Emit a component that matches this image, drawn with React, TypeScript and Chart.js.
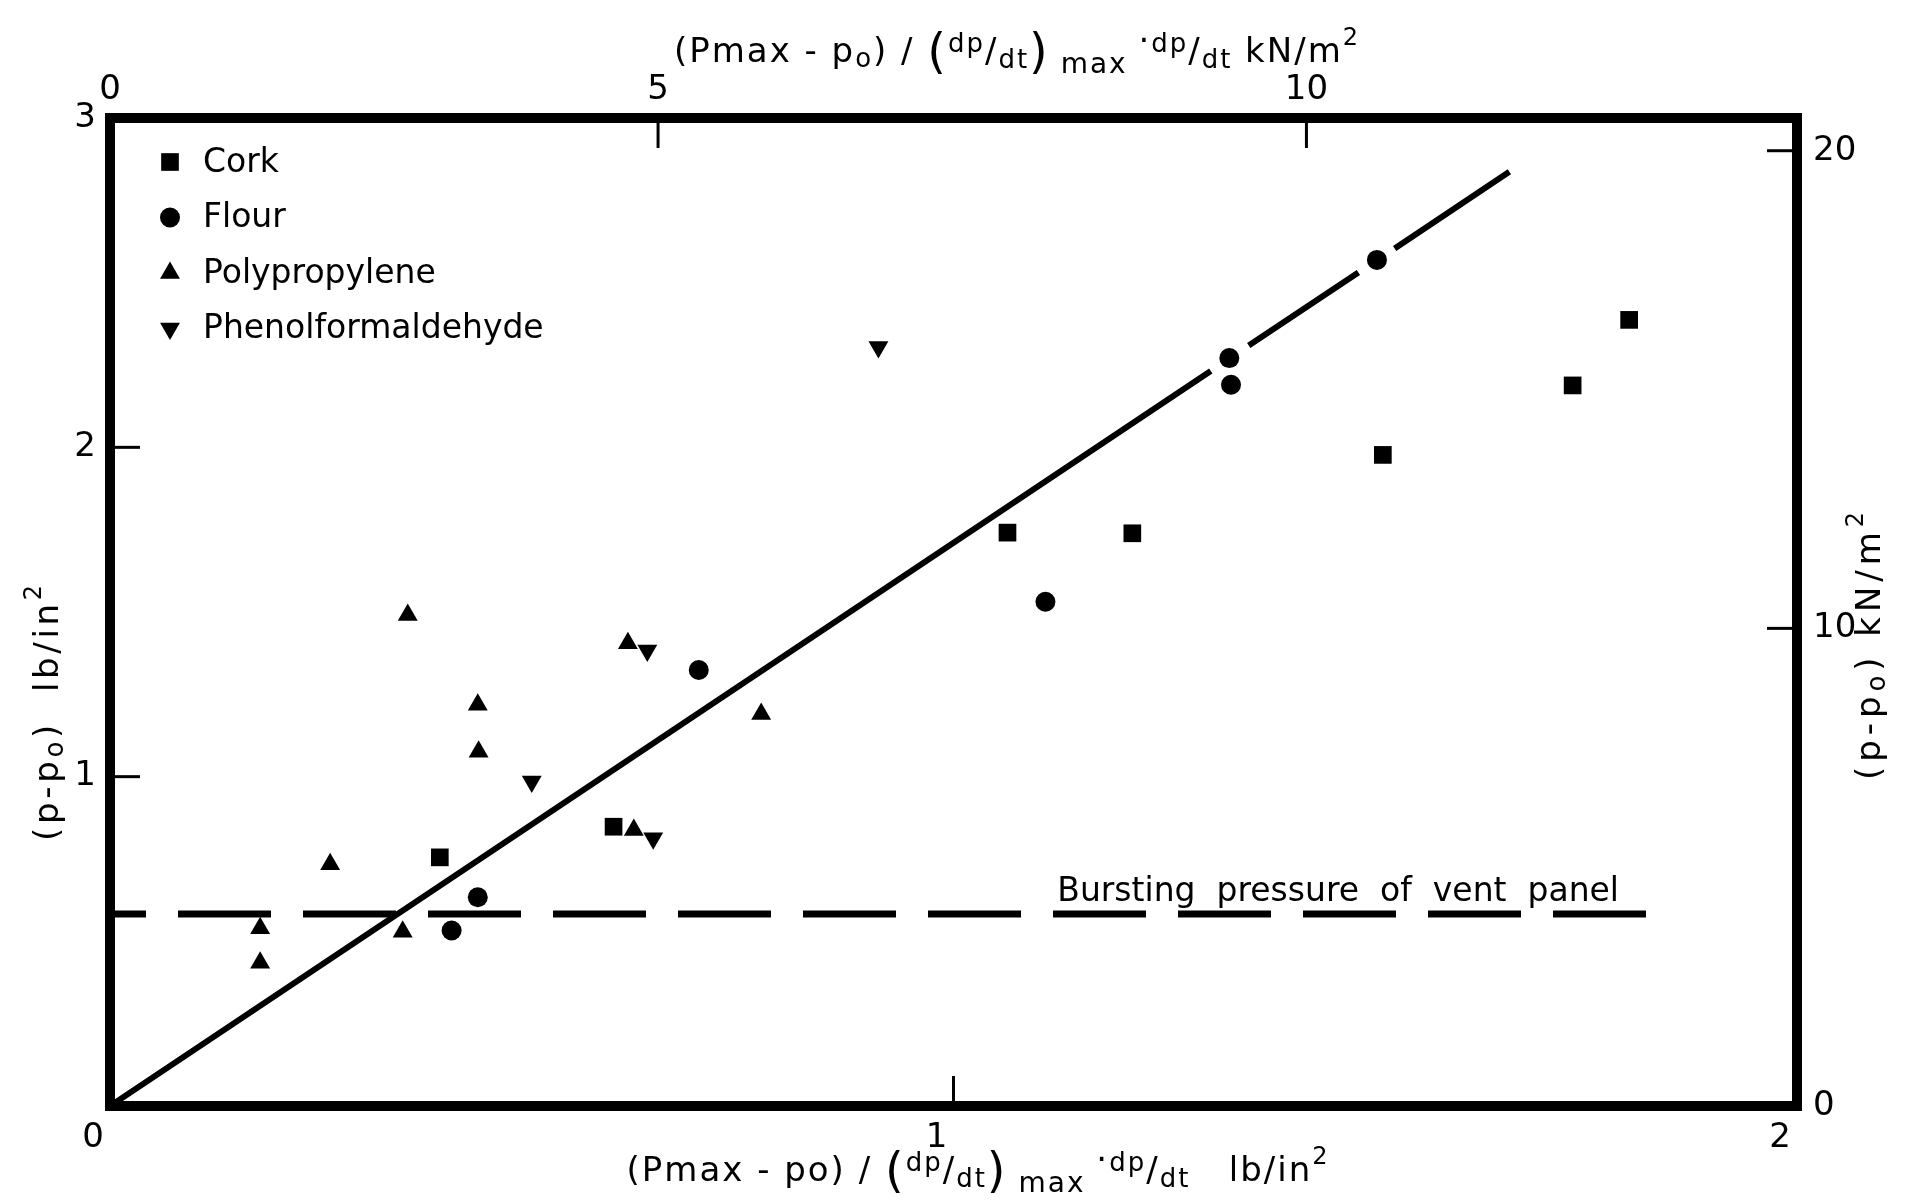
import React, { useEffect, useRef } from 'react';
import { Chart, registerables } from 'chart.js';

Chart.register(...registerables);

// ---------- data ----------
// x: (Pmax-po)/(dp/dt)max · dp/dt  [lb/in²],  y: (p-po) [lb/in²]
const seriesNames = ['Cork', 'Flour', 'Polypropylene', 'Phenolformaldehyde'];

const corkX = [0.391, 0.597, 1.064, 1.212, 1.509, 1.734, 1.801];
const corkY = [0.755, 0.848, 1.741, 1.739, 1.977, 2.188, 2.387];

const flourX = [0.405, 0.436, 0.698, 1.109, 1.327, 1.329, 1.502];
const flourY = [0.533, 0.634, 1.324, 1.531, 2.271, 2.19, 2.569];

const polyX = [0.178, 0.178, 0.261, 0.353, 0.436, 0.437, 0.347, 0.614, 0.621, 0.772];
const polyY = [0.54, 0.435, 0.734, 1.491, 1.218, 1.076, 0.529, 1.405, 0.838, 1.19];

const phenolX = [0.911, 0.637, 0.5, 0.644];
const phenolY = [2.305, 1.383, 0.985, 0.813];

// fitted line through the origin (broken where it passes the flour points)
const fitLineX = [0, 1.305, 1.328, 1.35, 1.48, 1.501, 1.523, 1.659];
const fitLineY = [0, 2.232, null, 2.309, 2.531, null, 2.604, 2.837];

// bursting pressure of the vent panel
const burstY = 0.583;
const burstX = [0, 1.823];
const burstLabel = 'Bursting  pressure  of  vent  panel';
const burstLabelX = 1.123;

// axes
const KN_PER_PSI = 6.895;
const X_MAX = 2;
const Y_MAX = 3;
const bottomTickValues = [0, 1, 2];
const bottomTickLabels = ['0', '1', '2'];
const leftTickValues = [1, 2, 3];
const leftTickLabels = ['1', '2', '3'];
// top axis (kN/m²) ticks, positions as drawn in the original figure
const topTickValues = [0, 4.48, 9.78];
const topTickLabels = ['0', '5', '10'];
const rightTickValues = [0, 10, 20];
const rightTickLabels = ['0', '10', '20'];

// axis titles: [text, font size, baseline shift]
type Seg = [string, number, number];
const topTitle: Seg[] = [
  ['(Pmax - p', 34, 0], ['o', 26, 5], [') / ', 34, 0], ['(', 48, 6], ['dp', 26, -10], ['/', 34, 0],
  ['dt', 26, 6], [')', 48, 6], [' max ', 28, 11], ['·', 34, -10], ['dp', 26, -10], ['/', 34, 0],
  ['dt', 26, 6], [' kN/m', 34, 0], ['2', 24, -17],
];
const bottomTitle: Seg[] = [
  ['(Pmax - po) / ', 34, 0], ['(', 48, 6], ['dp', 26, -10], ['/', 34, 0], ['dt', 26, 6], [')', 48, 6],
  [' max ', 28, 11], ['·', 34, -10], ['dp', 26, -10], ['/', 34, 0], ['dt', 26, 6], ['   lb/in', 34, 0],
  ['2', 24, -17],
];
const leftTitle: Seg[] = [['(p-p', 34, 0], ['o', 26, 5], [')  lb/in', 34, 0], ['2', 24, -17]];
const rightTitle: Seg[] = [['(p-p', 34, 0], ['o', 26, 5], [') kN/m', 34, 0], ['2', 24, -17]];

const FONT = '"DejaVu Sans", sans-serif';

function segWidth(ctx: CanvasRenderingContext2D, segs: Seg[]) {
  let w = 0;
  let n = 0;
  for (const [t, s] of segs) {
    ctx.font = `${s}px ${FONT}`;
    for (const ch of t) {
      w += ctx.measureText(ch).width;
      n++;
    }
  }
  return { w, n };
}

function drawSegs(ctx: CanvasRenderingContext2D, segs: Seg[], cx: number, y: number, target: number) {
  const { w, n } = segWidth(ctx, segs);
  const ls = Math.max(0, (target - w) / Math.max(1, n - 1));
  let x = cx - (w + ls * (n - 1)) / 2;
  ctx.textAlign = 'left';
  ctx.textBaseline = 'alphabetic';
  for (const [t, s, dy] of segs) {
    ctx.font = `${s}px ${FONT}`;
    for (const ch of t) {
      ctx.fillText(ch, x, y + dy);
      x += ctx.measureText(ch).width + ls;
    }
  }
}

function drawMarker(ctx: CanvasRenderingContext2D, style: string, rot: number, r: number, x: number, y: number) {
  ctx.beginPath();
  if (style === 'circle') {
    ctx.arc(x, y, r, 0, Math.PI * 2);
  } else if (style === 'rect') {
    const s = r * Math.SQRT1_2;
    ctx.rect(x - s, y - s, 2 * s, 2 * s);
  } else {
    let rad = (rot * Math.PI) / 180;
    ctx.moveTo(x + Math.sin(rad) * r, y - Math.cos(rad) * r);
    rad += (2 * Math.PI) / 3;
    ctx.lineTo(x + Math.sin(rad) * r, y - Math.cos(rad) * r);
    rad += (2 * Math.PI) / 3;
    ctx.lineTo(x + Math.sin(rad) * r, y - Math.cos(rad) * r);
    ctx.closePath();
  }
  ctx.fill();
}

const toPoints = (xs: number[], ys: (number | null)[]) => xs.map((x, i) => ({ x, y: ys[i] }));

const overlay = {
  id: 'overlay',
  beforeDraw(chart: any) {
    const { ctx, width, height } = chart;
    ctx.save();
    ctx.fillStyle = '#fff';
    ctx.fillRect(0, 0, width, height);
    ctx.restore();
  },
  afterDraw(chart: any) {
    const { ctx, chartArea: ca, scales } = chart;
    ctx.save();
    ctx.strokeStyle = '#000';
    ctx.fillStyle = '#000';

    // frame
    ctx.lineWidth = 10;
    ctx.lineJoin = 'miter';
    ctx.strokeRect(ca.left, ca.top, ca.right - ca.left, ca.bottom - ca.top);

    // inward tick marks
    ctx.lineWidth = 3;
    const L = 30;
    const seg = (x1: number, y1: number, x2: number, y2: number) => {
      ctx.beginPath();
      ctx.moveTo(x1, y1);
      ctx.lineTo(x2, y2);
      ctx.stroke();
    };
    const inH = (p: number) => p > ca.left + 4 && p < ca.right - 4;
    const inV = (p: number) => p > ca.top + 4 && p < ca.bottom - 4;
    for (const t of scales.x.ticks) {
      const p = scales.x.getPixelForValue(t.value);
      if (inH(p)) seg(p, ca.bottom, p, ca.bottom - L);
    }
    for (const t of scales.x2.ticks) {
      const p = scales.x2.getPixelForValue(t.value);
      if (inH(p)) seg(p, ca.top, p, ca.top + L);
    }
    for (const t of scales.y.ticks) {
      const p = scales.y.getPixelForValue(t.value);
      if (inV(p)) seg(ca.left, p, ca.left + L, p);
    }
    for (const t of scales.y2.ticks) {
      const p = scales.y2.getPixelForValue(t.value);
      if (inV(p)) seg(ca.right, p, ca.right - L, p);
    }

    // legend
    const lx = ca.left + 60;
    seriesNames.forEach((name, i) => {
      const ds = chart.data.datasets[i];
      const y = ca.top + 44 + i * 55.5;
      drawMarker(ctx, ds.pointStyle, ds.rotation || 0, ds.pointRadius, lx, y);
      ctx.font = `33px ${FONT}`;
      ctx.textAlign = 'left';
      ctx.textBaseline = 'middle';
      ctx.fillText(name, lx + 33, y + 1);
    });

    // bursting pressure label
    ctx.font = `33px ${FONT}`;
    ctx.textAlign = 'left';
    ctx.textBaseline = 'alphabetic';
    ctx.fillText(burstLabel, scales.x.getPixelForValue(burstLabelX), scales.y.getPixelForValue(burstY) - 13);

    // axis titles
    drawSegs(ctx, topTitle, 1016, 62, 684);
    drawSegs(ctx, bottomTitle, 977, 1181, 701);
    ctx.save();
    ctx.translate(58, 713);
    ctx.rotate(-Math.PI / 2);
    drawSegs(ctx, leftTitle, 0, 0, 256);
    ctx.restore();
    ctx.save();
    ctx.translate(1880, 646);
    ctx.rotate(-Math.PI / 2);
    drawSegs(ctx, rightTitle, 0, 0, 268);
    ctx.restore();

    ctx.restore();
  },
};

const fixBox = (w?: number, h?: number) => (s: any) => {
  if (w !== undefined) s.width = w;
  if (h !== undefined) s.height = h;
  s.paddingLeft = 0;
  s.paddingRight = 0;
  s.paddingTop = 0;
  s.paddingBottom = 0;
};

const setTicks = (vals: number[]) => (s: any) => {
  s.ticks = vals.map((v) => ({ value: v }));
};

const tickFont = { family: FONT, size: 34 };

export default function App() {
  const ref = useRef<HTMLCanvasElement>(null);
  useEffect(() => {
    document.body.style.margin = '0';
    const marker = (label: string, xs: number[], ys: number[], style: string, r: number, rot = 0) => ({
      label,
      data: toPoints(xs, ys),
      pointStyle: style,
      pointRadius: r,
      pointHoverRadius: r,
      rotation: rot,
      backgroundColor: '#000',
      borderColor: '#000',
      borderWidth: 0,
      showLine: false,
    });
    const chart = new Chart(ref.current as HTMLCanvasElement, {
      type: 'scatter',
      data: {
        datasets: [
          marker(seriesNames[0], corkX, corkY, 'rect', 12.5),
          marker(seriesNames[1], flourX, flourY, 'circle', 10),
          marker(seriesNames[2], polyX, polyY, 'triangle', 11.5),
          marker(seriesNames[3], phenolX, phenolY, 'triangle', 11.5, 180),
          {
            label: 'fit',
            data: toPoints(fitLineX, fitLineY),
            showLine: true,
            borderColor: '#000',
            borderWidth: 6,
            borderCapStyle: 'butt',
            pointRadius: 0,
            spanGaps: false,
          } as any,
          {
            label: 'burst',
            data: toPoints(burstX, burstX.map(() => burstY)),
            showLine: true,
            borderColor: '#000',
            borderWidth: 7,
            borderDash: [93, 32],
            borderDashOffset: 57,
            borderCapStyle: 'butt',
            pointRadius: 0,
          } as any,
        ],
      },
      options: {
        responsive: false,
        maintainAspectRatio: false,
        animation: false,
        devicePixelRatio: 1,
        events: [],
        layout: { padding: 0 },
        plugins: { legend: { display: false }, tooltip: { enabled: false } },
        scales: {
          x: {
            type: 'linear',
            position: 'bottom',
            min: 0,
            max: X_MAX,
            afterFit: fixBox(undefined, 95),
            afterBuildTicks: setTicks(bottomTickValues),
            grid: { display: false, drawTicks: false },
            border: { display: false },
            ticks: {
              align: 'end',
              labelOffset: -6,
              padding: 12,
              color: '#000',
              font: tickFont,
              callback: (_v: any, i: number) => bottomTickLabels[i],
            },
          },
          x2: {
            type: 'linear',
            position: 'top',
            min: 0,
            max: X_MAX * KN_PER_PSI,
            afterFit: fixBox(undefined, 118),
            afterBuildTicks: setTicks(topTickValues),
            grid: { display: false, drawTicks: false },
            border: { display: false },
            ticks: {
              padding: 7,
              color: '#000',
              font: tickFont,
              callback: (_v: any, i: number) => topTickLabels[i],
            },
          },
          y: {
            type: 'linear',
            position: 'left',
            min: 0,
            max: Y_MAX,
            afterFit: fixBox(110, undefined),
            afterBuildTicks: setTicks(leftTickValues),
            grid: { display: false, drawTicks: false },
            border: { display: false },
            ticks: {
              padding: 14,
              color: '#000',
              font: tickFont,
              callback: (_v: any, i: number) => leftTickLabels[i],
            },
          },
          y2: {
            type: 'linear',
            position: 'right',
            min: 0,
            max: Y_MAX * KN_PER_PSI,
            afterFit: fixBox(113, undefined),
            afterBuildTicks: setTicks(rightTickValues),
            grid: { display: false, drawTicks: false },
            border: { display: false },
            ticks: {
              padding: 16,
              color: '#000',
              font: tickFont,
              callback: (_v: any, i: number) => rightTickLabels[i],
            },
          },
        },
      } as any,
      plugins: [overlay],
    });
    return () => chart.destroy();
  }, []);
  return (
    <canvas
      ref={ref}
      width={1910}
      height={1201}
      style={{ display: 'block', width: 1910, height: 1201 }}
    />
  );
}
